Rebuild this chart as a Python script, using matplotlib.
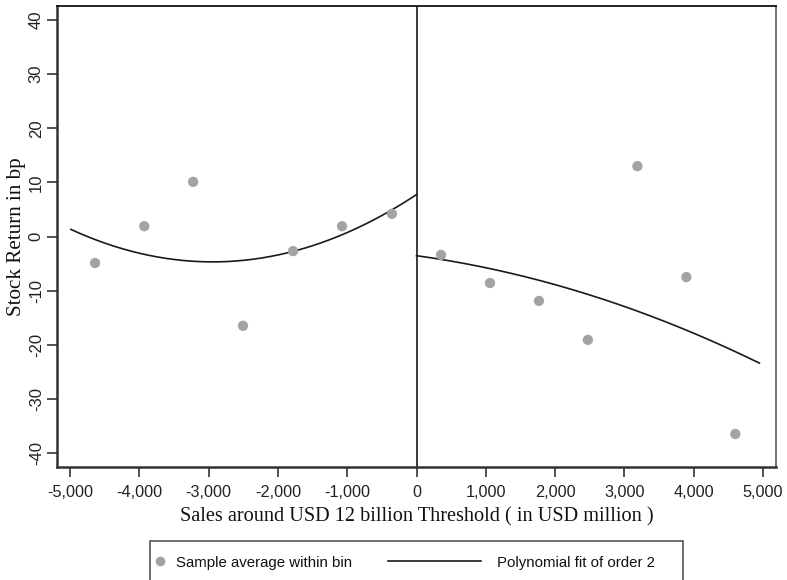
import numpy as np
import matplotlib
matplotlib.use("Agg")
import matplotlib.pyplot as plt
from matplotlib.ticker import FuncFormatter
from matplotlib.patches import Rectangle
from matplotlib.lines import Line2D

plt.rcParams["axes.unicode_minus"] = False

# Bin averages
left_x = [-4640, -3930, -3225, -2505, -1782, -1075, -355]
left_y = [-4.9, 1.9, 10.1, -16.5, -2.7, 1.9, 4.2]
right_x = [354, 1061, 1768, 2474, 3189, 3896, 4603]
right_y = [-3.4, -8.6, -11.9, -19.1, 13.0, -7.5, -36.5]

# Points
fitL_x = [-4990, -3945, -3080, -2258, -1782, -1000, 0]
fitL_y = [0.9, -2.3, -5.0, -4.3, -2.7, 0.6, 7.9]
fitR_x = [0, 1060, 2650, 3362, 4950]
fitR_y = [-3.6, -5.8, -11.6, -14.5, -23.4]

xticks = [-5000, -4000, -3000, -2000, -1000, 0, 1000, 2000, 3000, 4000, 5000]
yticks = [-40, -30, -20, -10, 0, 10, 20, 30, 40]
legend_labels = ["Sample average within bin", "Polynomial fit of order 2"]

W, H = 787, 580
fig = plt.figure(figsize=(W/100, H/100), dpi=100)
ax = fig.add_axes([57/W, 1-467/H, 719/W, 461/H])

dot_color = "#a3a3a3"
line_color = "#1a1a1a"
ax.scatter(left_x + right_x, left_y + right_y, s=55, color=dot_color,
           edgecolors="none", zorder=3)

for fx, fy in [(fitL_x, fitL_y), (fitR_x, fitR_y)]:
    c = np.polyfit(fx, fy, 2)
    xs = np.linspace(min(fx), max(fx), 200)
    ax.plot(xs, np.polyval(c, xs), color=line_color, lw=1.2, zorder=2)

ax.axvline(0, color=line_color, lw=1.2, zorder=1)

ax.set_xlim(-5190, 5190)
ax.set_ylim(-42.6, 42.6)
ax.set_xticks(xticks)
ax.set_yticks(yticks)
ax.xaxis.set_major_formatter(FuncFormatter(lambda v, p: f"{int(v):,}"))

for lab in ax.get_xticklabels():
    lab.set_fontfamily("Liberation Sans"); lab.set_fontsize(11.7)
for lab in ax.get_yticklabels():
    lab.set_fontfamily("Liberation Sans"); lab.set_fontsize(12)
    lab.set_rotation(90); lab.set_va("center")
ax.tick_params(axis="both", direction="out", length=7, width=1.2, color="#333333",
               labelcolor="#222222")
ax.tick_params(axis="x", pad=6)
ax.tick_params(axis="y", pad=2.5)

ax.set_xlabel("Sales around USD 12 billion Threshold ( in USD million )",
              fontfamily="Liberation Serif", fontsize=14.6, color="#111111", labelpad=5)
ax.set_ylabel("Stock Return in bp", fontfamily="Liberation Serif", fontsize=15.2,
              color="#111111", labelpad=2)

ax.spines["left"].set_linewidth(1.8); ax.spines["left"].set_color("#333333")
ax.spines["bottom"].set_linewidth(1.8); ax.spines["bottom"].set_color("#333333")
ax.spines["top"].set_linewidth(1.3); ax.spines["top"].set_color("#111111")
ax.spines["right"].set_linewidth(1.3); ax.spines["right"].set_color("#666666")

# Legend box (partly cut off at the bottom, as in the reference)
def fx_(px):
    return px / W
def fy_(py):
    return 1 - py / H

fig.add_artist(Rectangle((fx_(150), fy_(590)), fx_(683) - fx_(150), fy_(541) - fy_(590),
                         transform=fig.transFigure, facecolor="white",
                         edgecolor="#555555", lw=1.2))
yc = fy_(561)
fig.add_artist(Line2D([fx_(160)], [yc], transform=fig.transFigure, marker="o",
                      markersize=7, color=dot_color, markeredgecolor="none", linestyle="none"))
fig.text(fx_(176), yc, legend_labels[0], fontfamily="Liberation Sans", fontsize=10.8,
         va="center_baseline", ha="left", color="#111111")
fig.add_artist(Line2D([fx_(388), fx_(481)], [yc, yc], transform=fig.transFigure,
                      color=line_color, lw=1.2))
fig.text(fx_(497), yc, legend_labels[1], fontfamily="Liberation Sans", fontsize=10.8,
         va="center_baseline", ha="left", color="#111111")

fig.savefig("out.png", dpi=100)
